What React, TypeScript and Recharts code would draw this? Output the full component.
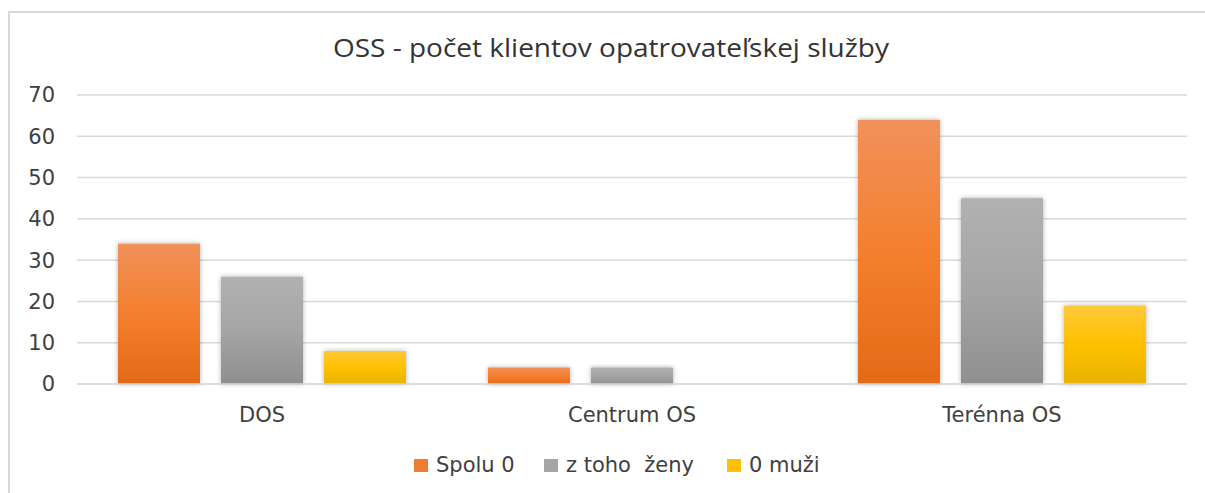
import { BarChart, Bar, XAxis, YAxis, CartesianGrid } from 'recharts';

const categories = ['DOS', 'Centrum OS', 'Terénna OS'];
const spolu = [34, 4, 64];
const zeny = [26, 4, 45];
const muzi = [8, 0, 19];
const yTicks = [0, 10, 20, 30, 40, 50, 60, 70];

const series = [
  { key: 'spolu', name: 'Spolu 0', grad: 'gOrange', swatch: '#ED7D31', width: 130 },
  { key: 'zeny', name: 'z toho  ženy', grad: 'gGray', swatch: '#A5A5A5', width: 183 },
  { key: 'muzi', name: '0 muži', grad: 'gYellow', swatch: '#FFC000', width: 100 },
];

const data = categories.map((name, i) => ({
  name,
  spolu: spolu[i],
  zeny: zeny[i],
  muzi: muzi[i],
}));

const TEXT = '#404040';
const FONT = '"DejaVu Sans", sans-serif';

function ShadowBar(props: any) {
  const { x, y, width, height, fill } = props;
  if (!height || height <= 0) return null;
  return <rect x={x} y={y} width={width} height={height} fill={fill} filter="url(#barShadow)" />;
}

export default function App() {
  return (
    <div style={{ position: 'absolute', left: 0, top: 0, width: 1205, height: 493, overflow: 'hidden', background: '#fff' }}>
      {/* chart frame (top + left edges only visible) */}
      <div
        style={{
          position: 'absolute',
          left: 8,
          top: 11,
          width: 1300,
          height: 600,
          borderTop: '2px solid #d9d9d9',
          borderLeft: '2px solid #d9d9d9',
        }}
      />
      <svg width={1205} height={80} style={{ position: 'absolute', left: 0, top: 0 }}>
        <text
          x={611}
          y={57}
          textAnchor="middle"
          textLength={556}
          lengthAdjust="spacingAndGlyphs"
          style={{ fontFamily: '"Open Sans", sans-serif', fontSize: 25, fill: '#333' }}
        >
          OSS - počet klientov opatrovateľskej služby
        </text>
      </svg>
      <div style={{ position: 'absolute', left: 0, top: 0 }}>
        <BarChart
          width={1205}
          height={493}
          data={data}
          margin={{ top: 95, right: 18, bottom: 79, left: 27 }}
          barCategoryGap={41}
          barGap={21}
        >
          <defs>
            <linearGradient id="gOrange" x1="0" y1="0" x2="0" y2="1">
              <stop offset="0%" stopColor="#F1915B" />
              <stop offset="50%" stopColor="#F47F2E" />
              <stop offset="100%" stopColor="#E36A17" />
            </linearGradient>
            <linearGradient id="gGray" x1="0" y1="0" x2="0" y2="1">
              <stop offset="0%" stopColor="#B1B1B1" />
              <stop offset="50%" stopColor="#A5A5A5" />
              <stop offset="100%" stopColor="#8F8F8F" />
            </linearGradient>
            <linearGradient id="gYellow" x1="0" y1="0" x2="0" y2="1">
              <stop offset="0%" stopColor="#FFC83A" />
              <stop offset="50%" stopColor="#FFC000" />
              <stop offset="100%" stopColor="#E6B300" />
            </linearGradient>
            <filter id="barShadow" x="-20%" y="-20%" width="140%" height="140%">
              <feDropShadow dx="0" dy="0" stdDeviation="2.5" floodColor="#000" floodOpacity="0.3" />
            </filter>
          </defs>
          <CartesianGrid vertical={false} stroke="#d9d9d9" strokeWidth={1.5} />
          <XAxis
            dataKey="name"
            height={30}
            axisLine={{ stroke: '#d9d9d9', strokeWidth: 1.5 }}
            tickLine={false}
            tickMargin={17}
            tick={{ fill: TEXT, fontSize: 21, fontFamily: FONT }}
          />
          <YAxis
            width={50}
            domain={[0, 70]}
            ticks={yTicks}
            axisLine={false}
            tickLine={false}
            tickMargin={16}
            tick={{ fill: TEXT, fontSize: 21, fontFamily: FONT }}
          />
          {series.map((s) => (
            <Bar
              key={s.key}
              dataKey={s.key}
              name={s.name}
              fill={`url(#${s.grad})`}
              shape={ShadowBar}
              isAnimationActive={false}
            />
          ))}
        </BarChart>
      </div>
      {/* legend */}
      <div
        style={{
          position: 'absolute',
          left: 414,
          top: 453,
          display: 'flex',
          alignItems: 'center',
          fontFamily: FONT,
          fontSize: 21,
          color: TEXT,
          whiteSpace: 'pre',
        }}
      >
        {series.map((s) => (
          <div key={s.key} style={{ display: 'flex', alignItems: 'center', width: s.width }}>
            <span style={{ display: 'inline-block', width: 14, height: 13, background: s.swatch, marginRight: 8 }} />
            <span>{s.name}</span>
          </div>
        ))}
      </div>
    </div>
  );
}
